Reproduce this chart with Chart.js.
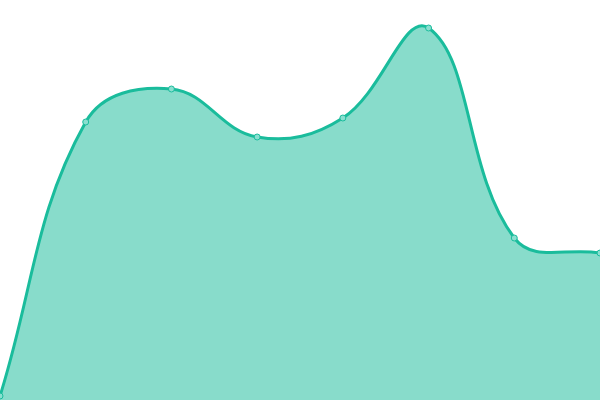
<!DOCTYPE html>
<html>
<head>
<meta charset="utf-8">
<script src="https://cdn.jsdelivr.net/npm/chart.js@4"></script>
<style>
html, body { margin: 0; padding: 0; background: #fff; }
#wrap { width: 600px; height: 400px; }
</style>
</head>
<body>
<div id="wrap"><canvas id="chart"></canvas></div>
<script>
var labels = ['A', 'B', 'C', 'D', 'E', 'F', 'G', 'H'];
var values = [4, 278, 311, 263, 282, 372, 162, 147];
var yMin = 0;
var yMax = 400;

var ctx = document.getElementById('chart').getContext('2d');

var chart = new Chart(ctx, {
	type: 'line',
	data: {
		labels: labels,
		datasets: [{
			data: values,
			fill: 'origin',
			tension: 0.4,
			borderColor: '#1abc9c',
			backgroundColor: 'rgba(26, 188, 156, 0.52)',
			borderWidth: 3,
			pointRadius: 3,
			pointBorderWidth: 1,
			pointBackgroundColor: '#8adfd0',
			pointBorderColor: '#1abc9c'
		}]
	},
	options: {
		responsive: true,
		maintainAspectRatio: false,
		animation: false,
		layout: { padding: 0, autoPadding: false },
		plugins: {
			legend: { display: false },
			tooltip: { enabled: false }
		},
		scales: {
			x: { display: false },
			y: { display: false, min: yMin, max: yMax }
		}
	}
});
</script>
</body>
</html>
